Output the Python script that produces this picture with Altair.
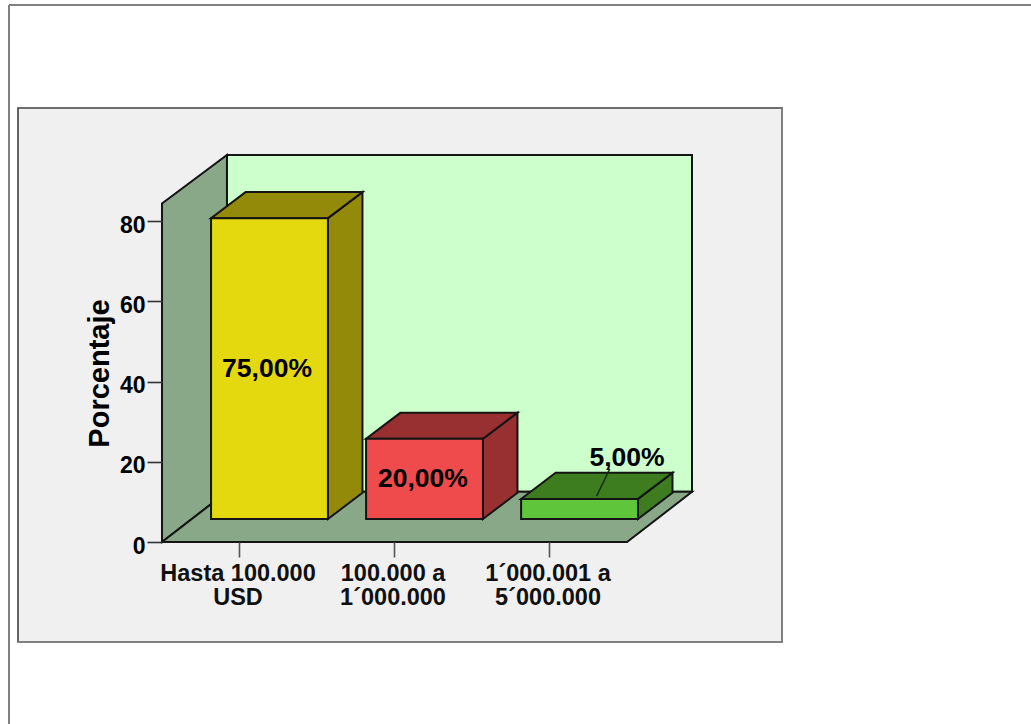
import json
import altair as alt
import pandas as pd

# Chart content
categories = [["Hasta 100.000", "USD"], ["100.000 a", "1´000.000"], ["1´000.001 a", "5´000.000"]]
values = [75.0, 20.0, 5.0]
y_ticks = [0, 20, 40, 60, 80]
axis_title = "Porcentaje"

# Colours of each bar: front face, then top and side faces
front_colors = ["#e4d90e", "#ef4b4c", "#5fc53a"]
shade_colors = ["#948a0a", "#982f30", "#3d7d20"]
WALL = "#88a888"
BACK = "#ccffcc"
PANEL = "#f0f0f0"
INK = "#141414"
FONT = "Liberation Sans"
EDGE = 2

# Geometry of the pseudo-3D box, in axis units
PLOT_W, PLOT_H = 530, 387
X_DOMAIN = [-0.5, 2.919]
Y_DOMAIN = [0, 96.5]
FLOOR_DX, FLOOR_DY = 0.419, 12.5
WALL_FRONT_TOP = 84.4
BAR_SHIFT_X, BAR_BASE = 0.1935, 5.75
BAR_HALF = 0.377
BAR_DX, BAR_DY = 0.2226, 6.5

x_scale = alt.Scale(domain=X_DOMAIN, nice=False, zero=False)
y_scale = alt.Scale(domain=Y_DOMAIN, nice=False, zero=False)

label_expr = "[" + ",".join(json.dumps(c, ensure_ascii=False) for c in categories) + "][datum.value]"
x_axis = alt.Axis(
    values=[0, 1, 2],
    labelExpr=label_expr,
    labelFont=FONT,
    labelFontWeight="bold",
    labelFontSize=23.5,
    labelColor="#101010",
    labelLineHeight=24.5,
    labelPadding=4,
    labelOffset=-1,
    labelFlush=False,
    labelOverlap=False,
    tickSize=15,
    tickWidth=1.6,
    tickOffset=-1,
    tickColor="#555555",
    domain=False,
    grid=False,
    zindex=1,
)
y_axis = alt.Axis(
    values=y_ticks,
    labelFont=FONT,
    labelFontWeight="bold",
    labelFontSize=23,
    labelColor="#000000",
    labelPadding=2,
    labelOffset=4,
    tickSize=15,
    tickWidth=1.6,
    tickColor="#333333",
    domain=False,
    grid=False,
    titleFont=FONT,
    titleFontWeight="bold",
    titleFontSize=29,
    titleColor="#000000",
    titleX=-48,
    titleY=218,
    zindex=1,
)

X = alt.X("x:Q", scale=x_scale, axis=x_axis, title=None, stack=None)
Y = alt.Y("y:Q", scale=y_scale, axis=y_axis, title=axis_title, stack=None)


def side_face(x, base, top, dx, dy, fill):
    """Parallelogram with vertical edges at x and x + dx."""
    df = pd.DataFrame({"x": [x, x + dx], "y": [base, base + dy], "y2": [top, top + dy]})
    return alt.Chart(df).mark_area(fill=fill, stroke=INK, strokeWidth=EDGE).encode(x=X, y=Y, y2="y2:Q")


def top_face(x0, x1, y, dx, dy, fill):
    """Parallelogram with horizontal edges at y and y + dy."""
    df = pd.DataFrame({"y": [y, y + dy], "x": [x0, x0 + dx], "x2": [x1, x1 + dx]})
    return (
        alt.Chart(df)
        .mark_area(orient="horizontal", fill=fill, stroke=INK, strokeWidth=EDGE)
        .encode(y=Y, x=X, x2="x2:Q")
    )


def box_face(x0, x1, y0, y1, fill):
    df = pd.DataFrame({"x": [x0], "x2": [x1], "y": [y0], "y2": [y1]})
    return alt.Chart(df).mark_rect(fill=fill, stroke=INK, strokeWidth=EDGE).encode(x=X, x2="x2:Q", y=Y, y2="y2:Q")


def frame_rule(x, x2, y, y2, color, width):
    return alt.Chart(pd.DataFrame({"k": [0]})).mark_rule(color=color, strokeWidth=width).encode(
        x=alt.value(x), x2=alt.value(x2), y=alt.value(y), y2=alt.value(y2)
    )


layers = []

# Page edge and grey panel behind the plot
layers.append(frame_rule(-153, 869, -150, -150, "#808080", 2))
layers.append(frame_rule(-153, -153, -150, 569, "#808080", 2))
layers.append(
    alt.Chart(pd.DataFrame({"k": [0]}))
    .mark_rect(fill=PANEL, stroke="#404040", strokeWidth=1.6)
    .encode(x=alt.value(-144), x2=alt.value(620), y=alt.value(-47), y2=alt.value(487))
)
layers.append(frame_rule(620, 620, -47, 487, "#808080", 2))
layers.append(frame_rule(-144, 620, 487, 487, "#808080", 2))

# Back wall, left wall and floor
back_x0, back_x1 = X_DOMAIN[0] + FLOOR_DX, X_DOMAIN[1]
layers.append(box_face(back_x0, back_x1, FLOOR_DY, Y_DOMAIN[1], BACK))
wall_df = pd.DataFrame(
    {"x": [X_DOMAIN[0], back_x0], "y": [0, FLOOR_DY], "y2": [WALL_FRONT_TOP, Y_DOMAIN[1]]}
)
layers.append(alt.Chart(wall_df).mark_area(fill=WALL, stroke=INK, strokeWidth=EDGE).encode(x=X, y=Y, y2="y2:Q"))
layers.append(top_face(X_DOMAIN[0], 2.5, 0, FLOOR_DX, FLOOR_DY, WALL))

# Bars: front, side and top faces
for i, v in enumerate(values):
    cx = i + BAR_SHIFT_X
    x0, x1 = cx - BAR_HALF, cx + BAR_HALF
    top = BAR_BASE + v
    layers.append(side_face(x1, BAR_BASE, top, BAR_DX, BAR_DY, shade_colors[i]))
    layers.append(top_face(x0, x1, top, BAR_DX, BAR_DY, shade_colors[i]))
    layers.append(box_face(x0, x1, BAR_BASE, top, front_colors[i]))

# Leader from the small bar up to its label
small = 2 + BAR_SHIFT_X
leader = pd.DataFrame(
    {
        "x": [small + 0.195],
        "x2": [small + 0.11],
        "y": [BAR_BASE + values[2] + 7.5],
        "y2": [BAR_BASE + values[2] + 0.7],
    }
)
layers.append(alt.Chart(leader).mark_rule(color="#14300c", strokeWidth=1.5).encode(x=X, x2="x2:Q", y=Y, y2="y2:Q"))

# Value labels
label_df = pd.DataFrame(
    {
        "x": [0 + BAR_SHIFT_X - 0.016, 1 + BAR_SHIFT_X - 0.01, 2 + BAR_SHIFT_X + 0.306],
        "y": [BAR_BASE + values[0] / 2, BAR_BASE + values[1] / 2, BAR_BASE + values[2] + 10.2],
        "label": [f"{v:.2f}%".replace(".", ",") for v in values],
    }
)
layers.append(
    alt.Chart(label_df)
    .mark_text(font=FONT, fontWeight="bold", fontSize=26.5, color="#000000", align="center", baseline="middle")
    .encode(x=X, y=Y, text="label:N")
)

chart = (
    alt.layer(*layers)
    .properties(
        width=PLOT_W,
        height=PLOT_H,
        background="#ffffff",
        padding={"left": 162, "top": 155, "right": 339, "bottom": 182},
        autosize=alt.AutoSizeParams(type="none"),
    )
    .configure_view(stroke=None)
)

chart.save("out.html", embed_options={"renderer": "svg", "actions": False})
